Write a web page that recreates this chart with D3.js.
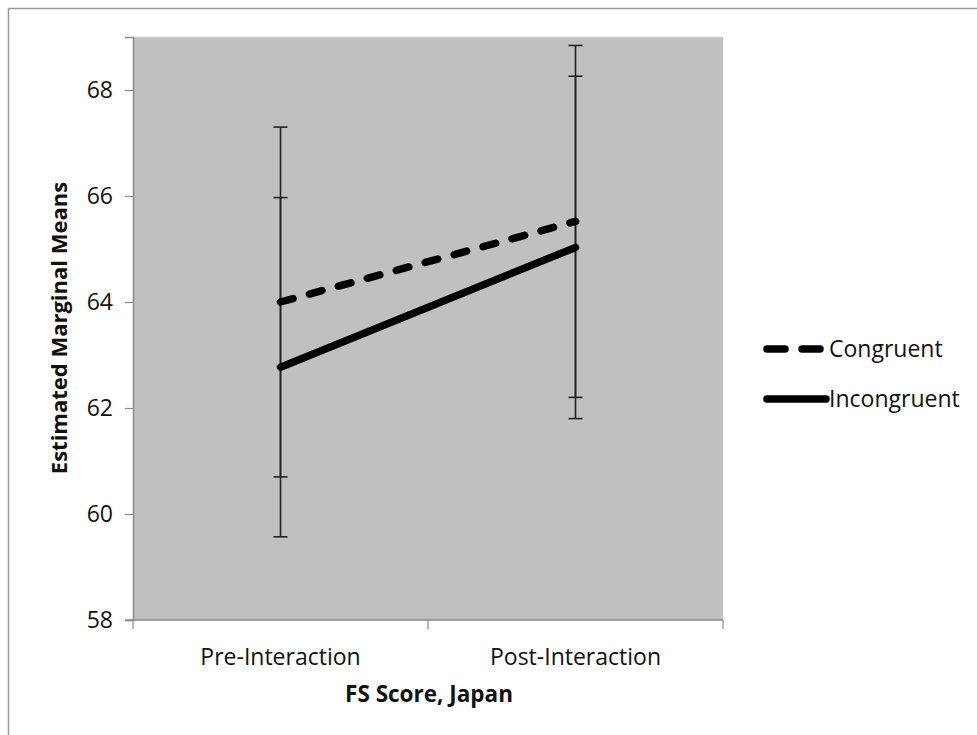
<!DOCTYPE html>
<html>
<head>
<meta charset="utf-8">
<script src="https://cdn.jsdelivr.net/npm/d3@7"></script>
<style>
  html, body { margin: 0; padding: 0; background: #fff; }
  svg { display: block; font-family: "Open Sans", sans-serif; }
</style>
</head>
<body>
<svg id="chart" width="977" height="735"></svg>
<script>
// Estimated marginal means by phase and condition, with 95% CI bounds
const phases = ["Pre-Interaction", "Post-Interaction"];
const seriesNames = ["Congruent", "Incongruent"];
const congruentMeans = [64.0, 65.52];
const congruentLower = [60.70, 62.20];
const congruentUpper = [67.30, 68.84];
const incongruentMeans = [62.77, 65.03];
const incongruentLower = [59.57, 61.80];
const incongruentUpper = [65.97, 68.26];
const yTicks = [58, 60, 62, 64, 66, 68];

const series = [
  { name: seriesNames[0], means: congruentMeans, lo: congruentLower, hi: congruentUpper, dash: "13,17" },
  { name: seriesNames[1], means: incongruentMeans, lo: incongruentLower, hi: incongruentUpper, dash: null }
];

const svg = d3.select("#chart");

// outer chart frame
svg.append("path")
  .attr("d", "M8.5,980 L8.5,8.5 L980,8.5")
  .attr("fill", "none").attr("stroke", "#9a9a9a").attr("stroke-width", 1.5);

const plot = { left: 133, top: 37, right: 723, bottom: 620 };

const x = d3.scaleBand().domain(phases).range([plot.left, plot.right]).paddingInner(0).paddingOuter(0);
const y = d3.scaleLinear().domain([58, 69]).range([plot.bottom, plot.top]);
const cx = d => x(d) + x.bandwidth() / 2;

// plot background
svg.append("rect")
  .attr("x", plot.left).attr("y", plot.top)
  .attr("width", plot.right - plot.left).attr("height", plot.bottom - plot.top)
  .attr("fill", "#c0c0c0");
svg.append("line")
  .attr("x1", plot.left).attr("x2", plot.right).attr("y1", plot.top).attr("y2", plot.top)
  .attr("stroke", "#dcdcdc").attr("stroke-width", 1);

// y axis
const yAxis = svg.append("g")
  .attr("transform", `translate(${plot.left},0)`)
  .call(d3.axisLeft(y).tickValues(yTicks).tickSize(8).tickPadding(12).tickFormat(d3.format("d")));
yAxis.select(".domain").attr("stroke", "#8a8a8a").attr("stroke-width", 1.5);
yAxis.selectAll(".tick line").attr("stroke", "#8a8a8a").attr("stroke-width", 1.2);
yAxis.selectAll(".tick text").attr("font-size", 23).attr("fill", "#111")
  .attr("font-family", "'Open Sans', sans-serif");

// x axis with ticks at category boundaries
const xAxisG = svg.append("g").attr("transform", `translate(0,${plot.bottom})`);
xAxisG.append("line")
  .attr("x1", plot.left - 8).attr("x2", plot.right).attr("y1", 0).attr("y2", 0)
  .attr("stroke", "#8a8a8a").attr("stroke-width", 1.5);
const boundaries = phases.map(p => x(p)).concat([x(phases[phases.length - 1]) + x.bandwidth()]);
xAxisG.selectAll("line.bt").data(boundaries).enter().append("line")
  .attr("class", "bt")
  .attr("x1", d => d).attr("x2", d => d).attr("y1", 0).attr("y2", 9)
  .attr("stroke", "#8a8a8a").attr("stroke-width", 1.2);
xAxisG.selectAll("text").data(phases).enter().append("text")
  .attr("x", d => cx(d)).attr("y", 45)
  .attr("text-anchor", "middle").attr("font-size", 23).attr("fill", "#111")
  .text(d => d);

// axis titles
svg.append("text")
  .attr("x", 429).attr("y", 702)
  .attr("text-anchor", "middle").attr("font-size", 22.5).attr("font-weight", "bold").attr("fill", "#111")
  .text("FS Score, Japan");
svg.append("text")
  .attr("transform", "translate(67,328) rotate(-90)")
  .attr("text-anchor", "middle").attr("font-size", 22).attr("font-weight", "bold").attr("fill", "#111")
  .text("Estimated Marginal Means");

// error bars
const capHalf = 7;
series.forEach(s => {
  const g = svg.append("g");
  phases.forEach((p, i) => {
    const px = cx(p);
    g.append("line").attr("x1", px).attr("x2", px).attr("y1", y(s.hi[i])).attr("y2", y(s.lo[i]))
      .attr("stroke", "#222").attr("stroke-width", 1.6);
    [s.hi[i], s.lo[i]].forEach(v => {
      g.append("line").attr("x1", px - capHalf).attr("x2", px + capHalf).attr("y1", y(v)).attr("y2", y(v))
        .attr("stroke", "#222").attr("stroke-width", 1.6);
    });
  });
});

// mean lines
const line = d3.line().x((d, i) => cx(phases[i])).y(d => y(d));
series.forEach(s => {
  svg.append("path")
    .datum(s.means)
    .attr("d", line)
    .attr("fill", "none").attr("stroke", "#000").attr("stroke-width", 7.5)
    .attr("stroke-linecap", "round")
    .attr("stroke-dasharray", s.dash);
});

// legend
const legend = svg.append("g");
const legendRows = [
  { s: series[0], y: 349, x2: 821, dash: "18,17" },
  { s: series[1], y: 399, x2: 826, dash: null }
];
legendRows.forEach(r => {
  legend.append("line")
    .attr("x1", 767).attr("x2", r.x2).attr("y1", r.y).attr("y2", r.y)
    .attr("stroke", "#000").attr("stroke-width", 7.5).attr("stroke-linecap", "round")
    .attr("stroke-dasharray", r.dash);
  legend.append("text")
    .attr("x", 829).attr("y", r.y).attr("dy", "0.35em")
    .attr("font-size", 23).attr("fill", "#111")
    .text(r.s.name);
});
</script>
</body>
</html>
